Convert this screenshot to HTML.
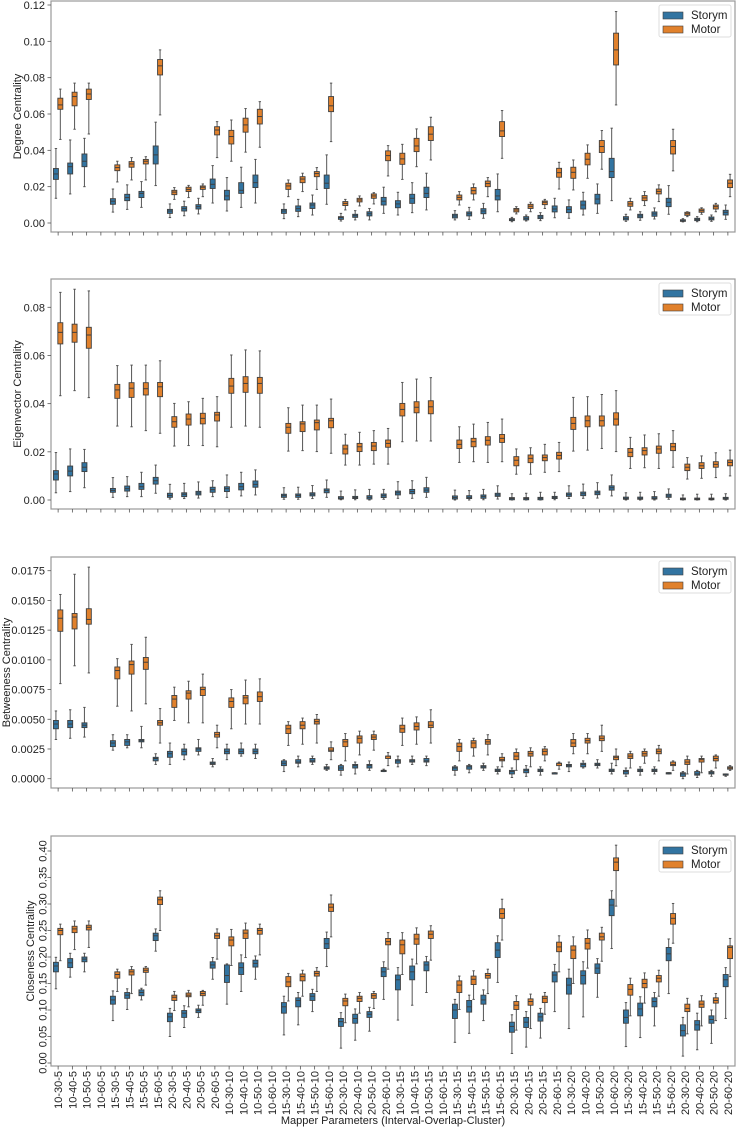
<!DOCTYPE html>
<html><head><meta charset="utf-8"><style>
html,body{margin:0;padding:0;background:#fff;}
svg{display:block;font-family:"Liberation Sans","DejaVu Sans",sans-serif;}
</style></head><body>
<svg id="chart" width="736" height="1128" viewBox="0 0 736 1128" xmlns="http://www.w3.org/2000/svg"></svg>
<script>
const categories = ["10-30-5","10-40-5","10-50-5","10-60-5","15-30-5","15-40-5","15-50-5","15-60-5","20-30-5","20-40-5","20-50-5","20-60-5",
"10-30-10","10-40-10","10-50-10","10-60-10","15-30-10","15-40-10","15-50-10","15-60-10","20-30-10","20-40-10","20-50-10","20-60-10",
"10-30-15","10-40-15","10-50-15","10-60-15","15-30-15","15-40-15","15-50-15","15-60-15","20-30-15","20-40-15","20-50-15","20-60-15",
"10-30-20","10-40-20","10-50-20","10-60-20","15-30-20","15-40-20","15-50-20","15-60-20","20-30-20","20-40-20","20-50-20","20-60-20"];
const seriesNames = ["Storym","Motor"];
// each box: [lowWhisker, q1, median, q3, highWhisker]
const degStorym = [[0.0136,0.024,0.027,0.030,0.041],[0.016,0.027,0.031,0.033,0.0457],[0.020,0.031,0.034,0.038,0.0466],null,[0.006,0.0103,0.012,0.0134,0.0187],[0.0075,0.0123,0.014,0.0158,0.021],[0.0086,0.014,0.0163,0.0174,0.0228],[0.0206,0.0325,0.0375,0.0424,0.0555],[0.003,0.0053,0.0066,0.0075,0.0105],[0.004,0.0066,0.0079,0.009,0.012],[0.005,0.0077,0.009,0.0101,0.0136],[0.011,0.019,0.0213,0.0242,0.0316],[0.0066,0.0127,0.0149,0.018,0.025],[0.0086,0.0163,0.018,0.0222,0.0307],[0.011,0.0195,0.0222,0.0264,0.035],null,[0.0024,0.0053,0.0066,0.0075,0.0105],[0.0035,0.0064,0.0079,0.0094,0.013],[0.0044,0.008,0.0099,0.011,0.0154],[0.0103,0.019,0.0219,0.0264,0.0375],[0.0011,0.002,0.003,0.0035,0.0053],[0.0017,0.0031,0.004,0.0048,0.0068],[0.0017,0.0039,0.0051,0.0062,0.008],[0.0053,0.0099,0.012,0.0141,0.0197],[0.0044,0.0084,0.0105,0.0123,0.0169],[0.0057,0.0108,0.0136,0.0158,0.0222],[0.0072,0.014,0.0163,0.0197,0.0274],null,[0.0017,0.0028,0.0039,0.0048,0.0068],[0.002,0.0039,0.0051,0.0061,0.0086],[0.0026,0.0051,0.0066,0.0079,0.0108],[0.0062,0.0127,0.0149,0.0185,0.027],[0.0007,0.0013,0.0018,0.0024,0.0031],[0.0011,0.0017,0.0026,0.0035,0.0044],[0.0013,0.0024,0.0033,0.0042,0.0057],[0.0029,0.0061,0.0077,0.0094,0.0136],[0.0026,0.0057,0.0075,0.009,0.0127],[0.0044,0.0077,0.0099,0.0121,0.0169],[0.0053,0.0105,0.0132,0.0158,0.0215],[0.0123,0.025,0.0283,0.0356,0.0522],[0.0009,0.0017,0.0026,0.0035,0.0048],[0.0015,0.0029,0.0039,0.0048,0.0062],[0.0022,0.0037,0.005,0.0061,0.0083],[0.0048,0.009,0.0114,0.0136,0.0206],[0.0006,0.0009,0.0015,0.0018,0.0024],[0.0007,0.0013,0.002,0.0026,0.0035],[0.0009,0.0017,0.0024,0.0033,0.0044],[0.002,0.0044,0.0059,0.007,0.0099]];
const degMotor = [[0.046,0.0626,0.065,0.0687,0.0737],[0.0516,0.0645,0.0696,0.072,0.077],[0.049,0.068,0.071,0.0737,0.077],null,[0.0226,0.0288,0.0305,0.032,0.034],[0.0237,0.0307,0.0325,0.0338,0.036],[0.0237,0.0325,0.034,0.035,0.0365],[0.0595,0.0815,0.0865,0.090,0.0953],[0.013,0.0156,0.017,0.018,0.0195],[0.014,0.0173,0.0185,0.0197,0.0207],[0.0145,0.0185,0.0197,0.0204,0.0215],[0.036,0.0485,0.0512,0.053,0.0558],[0.034,0.0435,0.0476,0.051,0.0567],[0.039,0.050,0.054,0.0577,0.063],[0.0417,0.0545,0.0586,0.0626,0.0668],null,[0.0145,0.0185,0.0204,0.0219,0.0237],[0.0173,0.0222,0.0242,0.0255,0.0274],[0.0185,0.0255,0.0272,0.0283,0.0305],[0.0448,0.0613,0.0645,0.0696,0.077],[0.0072,0.0096,0.0108,0.0118,0.013],[0.0094,0.0116,0.0127,0.0136,0.0149],[0.0105,0.0136,0.0149,0.016,0.0167],[0.0259,0.0343,0.0371,0.0397,0.0426],[0.024,0.0323,0.0353,0.0384,0.0433],[0.031,0.0393,0.0424,0.0466,0.0518],[0.0347,0.0454,0.0489,0.053,0.0582],null,[0.0099,0.0127,0.0141,0.0154,0.0173],[0.0127,0.016,0.0178,0.0195,0.0215],[0.0145,0.02,0.0217,0.0231,0.025],[0.0356,0.0476,0.0507,0.0558,0.0619],[0.005,0.0061,0.0072,0.008,0.009],[0.0062,0.008,0.0092,0.0103,0.0114],[0.008,0.0101,0.0114,0.0121,0.013],[0.0187,0.0252,0.0277,0.0301,0.0334],[0.0182,0.0246,0.0279,0.0307,0.0347],[0.0246,0.032,0.0351,0.0384,0.043],[0.0296,0.0388,0.0421,0.0454,0.0509],[0.065,0.087,0.0953,0.1045,0.1164],[0.0072,0.0092,0.0105,0.0118,0.0136],[0.0096,0.0123,0.0138,0.0151,0.0173],[0.0118,0.016,0.0174,0.0187,0.021],[0.0287,0.038,0.0421,0.0454,0.0516],[0.0035,0.0042,0.0051,0.0059,0.0062],[0.0048,0.0059,0.0068,0.0077,0.0084],[0.0062,0.0077,0.009,0.0099,0.0108],[0.0145,0.0195,0.0219,0.0237,0.0268]];
const eigStorym = [[0.003,0.0083,0.0108,0.0122,0.0197],[0.0035,0.01,0.012,0.0141,0.0212],[0.0051,0.0118,0.0136,0.0155,0.021],null,[0.0011,0.0032,0.004,0.0048,0.0093],[0.0014,0.0037,0.0047,0.0058,0.0097],[0.0014,0.0044,0.0055,0.0069,0.0115],[0.0028,0.0066,0.008,0.0094,0.0145],[0.0004,0.0011,0.0019,0.0028,0.0065],[0.0006,0.0014,0.0024,0.003,0.0069],[0.0008,0.0021,0.0029,0.0036,0.0075],[0.0014,0.0032,0.0043,0.0053,0.008],[0.0011,0.0035,0.0047,0.0055,0.0104],[0.0017,0.0042,0.0055,0.0069,0.0115],[0.0021,0.0053,0.0065,0.0079,0.0125],null,[0.0003,0.0011,0.0018,0.0024,0.0051],[0.0003,0.0011,0.0019,0.0025,0.0053],[0.0006,0.0017,0.0024,0.003,0.006],[0.0011,0.003,0.0039,0.0046,0.0083],[0.0001,0.0004,0.0008,0.0014,0.0037],[0.0001,0.0006,0.001,0.0015,0.0042],[0,0.0004,0.0011,0.0018,0.0044],[0.0003,0.001,0.0018,0.0025,0.0044],[0.0007,0.0021,0.003,0.0037,0.0076],[0.0007,0.0026,0.0035,0.0044,0.008],[0.0011,0.0032,0.0041,0.0051,0.0094],null,[0,0.0004,0.001,0.0017,0.0041],[0,0.0006,0.0011,0.0018,0.0039],[0.0001,0.0007,0.0014,0.0021,0.0044],[0.0004,0.0015,0.0021,0.0028,0.0059],[0,0.0001,0.0006,0.001,0.0026],[0,0.0001,0.0006,0.001,0.0028],[0,0.0001,0.0007,0.0011,0.0032],[0.0001,0.0006,0.0011,0.0015,0.0032],[0.0006,0.0015,0.0022,0.0029,0.0059],[0.0007,0.0018,0.0026,0.0033,0.0066],[0.0008,0.0022,0.003,0.0037,0.0072],[0.0017,0.0041,0.0051,0.0059,0.0104],[0,0.0003,0.0007,0.0012,0.003],[0,0.0003,0.0007,0.0012,0.0032],[0,0.0004,0.0008,0.0014,0.0035],[0.0003,0.0011,0.0017,0.0024,0.0046],[0,0.0001,0.0004,0.0008,0.0021],[0,0.0001,0.0004,0.0008,0.0024],[0,0.0001,0.0004,0.0008,0.0024],[0,0.0003,0.0007,0.0011,0.0026]];
const eigMotor = [[0.0433,0.0648,0.0696,0.0736,0.0862],[0.0454,0.0655,0.0696,0.073,0.0875],[0.0425,0.063,0.0685,0.0717,0.0868],null,[0.0307,0.0422,0.0457,0.048,0.0558],[0.0304,0.0426,0.0464,0.0487,0.056],[0.0288,0.0436,0.0462,0.0487,0.056],[0.0277,0.0429,0.047,0.0488,0.0578],[0.0224,0.0302,0.0325,0.0346,0.0401],[0.0226,0.0311,0.0336,0.0357,0.0408],[0.0226,0.0316,0.0339,0.036,0.0422],[0.0221,0.0328,0.0353,0.0364,0.0429],[0.0302,0.0443,0.0473,0.0505,0.0602],[0.0307,0.0447,0.0484,0.0512,0.0623],[0.0302,0.0443,0.0484,0.0509,0.0619],null,[0.0203,0.0277,0.0302,0.0318,0.0383],[0.0205,0.0284,0.0316,0.0325,0.0394],[0.0201,0.0291,0.0321,0.0332,0.0394],[0.0194,0.03,0.0329,0.0339,0.0419],[0.0145,0.0191,0.0212,0.0228,0.0273],[0.0145,0.0201,0.0221,0.0235,0.0281],[0.0149,0.0205,0.0224,0.0239,0.0288],[0.0149,0.0219,0.0235,0.0249,0.0297],[0.0242,0.0349,0.0376,0.0401,0.0488],[0.0245,0.0362,0.0385,0.0408,0.0502],[0.0245,0.0358,0.0387,0.0412,0.0508],null,[0.0156,0.0214,0.0231,0.0249,0.0304],[0.0159,0.0221,0.0242,0.0256,0.0315],[0.0156,0.0228,0.0248,0.0263,0.0322],[0.0159,0.0239,0.0256,0.0272,0.0336],[0.0107,0.0142,0.0165,0.018,0.0212],[0.0107,0.0155,0.0173,0.0187,0.0217],[0.0115,0.0163,0.0176,0.0187,0.0231],[0.0118,0.017,0.0185,0.0198,0.0239],[0.0203,0.0293,0.0318,0.0343,0.0426],[0.0207,0.0304,0.0329,0.0349,0.0429],[0.0214,0.0307,0.0329,0.0349,0.0438],[0.0201,0.0311,0.0336,0.0362,0.0454],[0.0131,0.018,0.0198,0.0214,0.026],[0.0134,0.0187,0.0205,0.0217,0.027],[0.0131,0.0194,0.0212,0.0224,0.0275],[0.0136,0.0205,0.0221,0.0235,0.0288],[0.0087,0.0122,0.0136,0.0149,0.0176],[0.009,0.0131,0.0142,0.0155,0.0183],[0.0093,0.0136,0.0148,0.0159,0.0196],[0.01,0.0142,0.0156,0.0166,0.0207]];
const betStorym = [[0.0033,0.0042,0.0046,0.0049,0.0057],[0.0034,0.0043,0.0046,0.0049,0.0058],[0.0035,0.0043,0.0045,0.0047,0.006],null,[0.0024,0.0027,0.003,0.0032,0.0037],[0.0026,0.0028,0.0031,0.0033,0.0037],[0.0026,0.0031,0.0032,0.0033,0.0044],[0.0012,0.0015,0.0017,0.0018,0.0021],[0.0012,0.0018,0.0021,0.0023,0.003],[0.0016,0.002,0.0023,0.0025,0.0029],[0.002,0.0023,0.0025,0.0026,0.0033],[0.001,0.0012,0.0013,0.0014,0.0017],[0.0016,0.0021,0.0023,0.0025,0.0029],[0.0019,0.0021,0.0023,0.0025,0.003],[0.0017,0.0021,0.0023,0.0025,0.0029],null,[0.0006,0.0011,0.0013,0.0015,0.0016],[0.001,0.0013,0.0014,0.0016,0.0019],[0.0012,0.0014,0.0015,0.0017,0.0019],[0.0007,0.0008,0.0009,0.001,0.0012],[0.0003,0.0007,0.0009,0.0011,0.0012],[0.0004,0.0009,0.0011,0.0012,0.0014],[0.0007,0.0009,0.0011,0.0012,0.0015],[0.0006,0.0006,0.0007,0.0007,0.0008],[0.001,0.0013,0.0015,0.0016,0.0019],[0.0012,0.0014,0.0015,0.0016,0.0019],[0.0011,0.0014,0.0015,0.0017,0.0019],null,[0.0003,0.0007,0.0009,0.001,0.0011],[0.0005,0.0008,0.001,0.0011,0.0012],[0.0007,0.0009,0.001,0.0011,0.0013],[0.0004,0.0006,0.0007,0.0008,0.001],[0.0001,0.0004,0.0006,0.0007,0.0009],[0.0002,0.0005,0.0007,0.0008,0.0011],[0.0003,0.0006,0.0007,0.0008,0.001],[0.0004,0.0004,0.0004,0.0005,0.0005],[0.0006,0.001,0.0011,0.0012,0.0014],[0.0009,0.001,0.0012,0.0013,0.0015],[0.0009,0.0011,0.0012,0.0013,0.0016],[0.0004,0.0006,0.0007,0.0008,0.0013],[0.0002,0.0004,0.0006,0.0007,0.0009],[0.0003,0.0006,0.0007,0.0008,0.001],[0.0004,0.0006,0.0007,0.0008,0.001],[0.0004,0.0004,0.0005,0.0005,0.0005],[0,0.0002,0.0004,0.0005,0.0006],[0.0001,0.0003,0.0004,0.0006,0.0007],[0.0002,0.0004,0.0005,0.0006,0.0007],[0.0002,0.0003,0.0003,0.0004,0.0004]];
const betMotor = [[0.008,0.0124,0.0135,0.0142,0.0155],[0.0095,0.0126,0.0136,0.0139,0.0172],[0.0089,0.013,0.0134,0.0143,0.0178],null,[0.0061,0.0084,0.0091,0.0094,0.0101],[0.0057,0.0088,0.0096,0.0099,0.0113],[0.0063,0.0092,0.0098,0.0102,0.0119],[0.003,0.0045,0.0047,0.0049,0.0059],[0.0049,0.006,0.0067,0.007,0.0077],[0.0047,0.0067,0.0072,0.0074,0.0082],[0.0047,0.007,0.0075,0.0077,0.0088],[0.0026,0.0035,0.0037,0.0039,0.0045],[0.0042,0.006,0.0065,0.0068,0.0075],[0.0046,0.0063,0.0068,0.007,0.0083],[0.0046,0.0065,0.0069,0.0073,0.0084],null,[0.0028,0.0038,0.0042,0.0045,0.0048],[0.0029,0.0042,0.0045,0.0048,0.0051],[0.003,0.0046,0.0048,0.005,0.0054],[0.0016,0.0023,0.0024,0.0026,0.0031],[0.0015,0.0027,0.0031,0.0033,0.0038],[0.002,0.003,0.0034,0.0036,0.004],[0.0024,0.0033,0.0035,0.0037,0.004],[0.0011,0.0017,0.0019,0.0019,0.0022],[0.0028,0.0039,0.0042,0.0045,0.0051],[0.0029,0.0041,0.0044,0.0047,0.0052],[0.003,0.0043,0.0045,0.0048,0.0058],null,[0.0015,0.0023,0.0027,0.003,0.0033],[0.0019,0.0026,0.003,0.0032,0.0034],[0.002,0.0029,0.0031,0.0033,0.0037],[0.001,0.0015,0.0016,0.0018,0.0021],[0.0007,0.0016,0.0019,0.0022,0.0025],[0.001,0.0019,0.0021,0.0023,0.0026],[0.0015,0.002,0.0023,0.0025,0.0027],[0.0008,0.0011,0.0013,0.0013,0.0014],[0.0021,0.0027,0.003,0.0033,0.0038],[0.0021,0.003,0.0032,0.0034,0.0038],[0.0023,0.0032,0.0034,0.0036,0.0045],[0.0011,0.0016,0.0018,0.0019,0.0025],[0.0009,0.0017,0.0019,0.0021,0.0023],[0.0013,0.0019,0.0021,0.0023,0.0025],[0.0015,0.0021,0.0023,0.0025,0.0028],[0.0007,0.0011,0.0012,0.0014,0.0015],[0.0004,0.0012,0.0014,0.0016,0.0019],[0.0005,0.0014,0.0016,0.0017,0.0019],[0.0009,0.0015,0.0017,0.0019,0.002],[0.0007,0.0008,0.0009,0.001,0.0011]];
const cloStorym = [[0.14,0.172,0.183,0.19,0.1994],[0.162,0.18,0.189,0.197,0.207],[0.172,0.191,0.196,0.2,0.207],null,[0.08,0.111,0.119,0.126,0.136],[0.101,0.122,0.128,0.133,0.14],[0.119,0.127,0.133,0.138,0.141],[0.211,0.231,0.24,0.245,0.253],[0.05,0.078,0.087,0.094,0.103],[0.067,0.086,0.094,0.099,0.108],[0.086,0.095,0.099,0.102,0.109],[0.158,0.179,0.185,0.191,0.199],[0.111,0.152,0.165,0.185,0.187],[0.135,0.167,0.18,0.189,0.204],[0.158,0.181,0.188,0.194,0.202],null,[0.053,0.094,0.106,0.114,0.126],[0.072,0.106,0.118,0.123,0.133],[0.097,0.118,0.126,0.131,0.139],[0.182,0.216,0.225,0.235,0.247],[0.028,0.069,0.078,0.084,0.095],[0.043,0.075,0.084,0.092,0.102],[0.06,0.086,0.092,0.097,0.105],[0.12,0.163,0.172,0.18,0.191],[0.081,0.138,0.157,0.166,0.18],[0.109,0.157,0.172,0.183,0.196],[0.133,0.174,0.185,0.191,0.201],null,[0.039,0.084,0.1,0.111,0.12],[0.056,0.096,0.106,0.118,0.128],[0.08,0.111,0.119,0.128,0.138],[0.152,0.199,0.213,0.227,0.24],[0.018,0.058,0.069,0.077,0.091],[0.03,0.067,0.077,0.086,0.097],[0.047,0.079,0.087,0.094,0.103],[0.097,0.153,0.166,0.172,0.186],[0.065,0.13,0.147,0.16,0.177],[0.087,0.149,0.165,0.174,0.191],[0.124,0.169,0.179,0.187,0.197],[0.216,0.278,0.298,0.309,0.325],[0.031,0.075,0.086,0.1,0.114],[0.048,0.089,0.102,0.113,0.125],[0.07,0.106,0.116,0.123,0.133],[0.131,0.193,0.206,0.218,0.234],[0.013,0.051,0.061,0.072,0.086],[0.025,0.062,0.072,0.08,0.094],[0.037,0.075,0.082,0.089,0.1],[0.084,0.144,0.157,0.167,0.18]];
const cloMotor = [[0.193,0.242,0.25,0.254,0.262],[0.214,0.246,0.253,0.258,0.268],[0.218,0.251,0.256,0.26,0.268],null,[0.135,0.16,0.167,0.172,0.177],[0.131,0.166,0.172,0.176,0.182],[0.147,0.171,0.175,0.179,0.182],[0.25,0.299,0.308,0.313,0.325],[0.099,0.118,0.124,0.128,0.135],[0.106,0.125,0.128,0.132,0.137],[0.109,0.127,0.131,0.135,0.137],[0.196,0.235,0.24,0.245,0.253],[0.184,0.221,0.232,0.238,0.252],[0.199,0.235,0.245,0.251,0.264],[0.204,0.243,0.25,0.254,0.262],null,[0.117,0.144,0.153,0.163,0.169],[0.126,0.155,0.163,0.168,0.175],[0.135,0.164,0.169,0.173,0.18],[0.238,0.286,0.294,0.3,0.317],[0.076,0.108,0.117,0.122,0.13],[0.094,0.116,0.122,0.126,0.133],[0.103,0.122,0.127,0.131,0.135],[0.177,0.223,0.229,0.235,0.246],[0.167,0.206,0.223,0.232,0.246],[0.187,0.224,0.234,0.243,0.255],[0.194,0.235,0.243,0.249,0.259],null,[0.101,0.133,0.147,0.155,0.164],[0.12,0.148,0.158,0.164,0.174],[0.131,0.16,0.165,0.169,0.177],[0.232,0.273,0.282,0.291,0.309],[0.062,0.101,0.109,0.116,0.127],[0.065,0.109,0.116,0.121,0.13],[0.092,0.114,0.122,0.126,0.133],[0.172,0.21,0.219,0.228,0.24],[0.15,0.197,0.213,0.221,0.238],[0.179,0.215,0.226,0.235,0.251],[0.192,0.232,0.238,0.245,0.256],[0.296,0.363,0.379,0.387,0.411],[0.089,0.128,0.139,0.148,0.16],[0.113,0.142,0.15,0.158,0.17],[0.126,0.153,0.16,0.165,0.175],[0.226,0.262,0.273,0.282,0.301],[0.055,0.097,0.103,0.111,0.122],[0.07,0.105,0.111,0.117,0.127],[0.08,0.113,0.118,0.123,0.131],[0.163,0.197,0.218,0.221,0.235]];
const degTicks = [0,0.02,0.04,0.06,0.08,0.10,0.12];
const eigTicks = [0,0.02,0.04,0.06,0.08];
const betTicks = [0,0.0025,0.005,0.0075,0.01,0.0125,0.015,0.0175];
const cloTicks = [0,0.05,0.1,0.15,0.2,0.25,0.3,0.35,0.4];

const NS = "http://www.w3.org/2000/svg";
const svg = document.getElementById('chart');
function mk(tag, attrs, parent){const e=document.createElementNS(NS,tag);for(const k in attrs)e.setAttribute(k,attrs[k]);(parent||svg).appendChild(e);return e;}

const X0 = 51, X1 = 735;
const band = (X1 - X0) / categories.length;
function xScale(i){ return X0 + band*(i+0.5); }
const COLORS = ["#3274a1","#e1812c"];
const EDGE = "#3f3f3f";

const panels = [
  {key:"degree", title:"Degree Centrality", top:1, bottom:232, v0:0, p0:223, v1:0.12, p1:5, ticks:degTicks, dec:2, s:degStorym, m:degMotor, titleX:21, rot:false},
  {key:"eigenvector", title:"Eigenvector Centrality", top:279, bottom:509, v0:0, p0:500, v1:0.08, p1:307.3, ticks:eigTicks, dec:2, s:eigStorym, m:eigMotor, titleX:21, rot:false},
  {key:"betweenness", title:"Betweeness Centrality", top:557, bottom:788, v0:0, p0:778.7, v1:0.0175, p1:570.7, ticks:betTicks, dec:4, s:betStorym, m:betMotor, titleX:10, rot:false},
  {key:"closeness", title:"Closeness Centrality", top:836, bottom:1066, v0:0, p0:1063, v1:0.40, p1:851, ticks:cloTicks, dec:2, s:cloStorym, m:cloMotor, titleX:34, rot:true}
];

panels.forEach(p=>{
  const y = v => p.p0 + (v - p.v0) * (p.p1 - p.p0) / (p.v1 - p.v0);
  const g = mk('g',{});
  
  
  const fr = mk('rect',{x:X0,y:p.top,width:X1-X0,height:p.bottom-p.top,fill:'none',stroke:'#999',"stroke-width":1.2},g);
  
  
  p.ticks.forEach(t=>{
    const ty = y(t);
    const tl = mk('line',{x1:X0-3.5,x2:X0,y1:ty,y2:ty,stroke:'#555',"stroke-width":0.8},g);
    
    
    let txt;
    if(p.rot){
      txt = mk('text',{x:0,y:0,transform:`translate(46.5,${ty}) rotate(-90)`,"text-anchor":"middle","font-size":11,fill:'#222'},g);
    } else {
      txt = mk('text',{x:X0-6,y:ty+4,"text-anchor":"end","font-size":11,fill:'#222'},g);
    }
    txt.textContent = t.toFixed(p.dec);
    
    
  });
  const cy = (p.top+p.bottom)/2;
  const yt = mk('text',{x:0,y:0,transform:`translate(${p.titleX},${cy}) rotate(-90)`,"text-anchor":"middle","font-size":11,fill:'#222'},g);
  yt.textContent = p.title;
  
  
  categories.forEach((c,i)=>{
    const xl = mk('line',{x1:xScale(i),x2:xScale(i),y1:p.bottom,y2:p.bottom+3.5,stroke:'#555',"stroke-width":0.8},g);
    
    
  });
  [p.s,p.m].forEach((series,si)=>{
    series.forEach((b,i)=>{
      if(!b) return;
      const cx = xScale(i) + (si===0?-2.2:2.2);
      const w = 5;
      const bg = mk('g',{},g);
      
      
      mk('line',{x1:cx,x2:cx,y1:y(b[0]),y2:y(b[1]),stroke:'#555',"stroke-width":1},bg);
      mk('line',{x1:cx,x2:cx,y1:y(b[3]),y2:y(b[4]),stroke:'#555',"stroke-width":1},bg);
      mk('line',{x1:cx-1.2,x2:cx+1.2,y1:y(b[0]),y2:y(b[0]),stroke:'#555',"stroke-width":1},bg);
      mk('line',{x1:cx-1.2,x2:cx+1.2,y1:y(b[4]),y2:y(b[4]),stroke:'#555',"stroke-width":1},bg);
      const yq3 = y(b[3]), yq1 = y(b[1]);
      mk('rect',{x:cx-w/2,y:yq3,width:w,height:Math.max(1,yq1-yq3),fill:COLORS[si],stroke:EDGE,"stroke-width":0.9},bg);
      mk('line',{x1:cx-w/2,x2:cx+w/2,y1:y(b[2]),y2:y(b[2]),stroke:EDGE,"stroke-width":1},bg);
    });
  });
  const lg = mk('g',{},g);
  
  
  const ly = p.top + 4;
  mk('rect',{x:659,y:ly,width:72,height:32,rx:2,fill:'#fff',stroke:'#ddd',"stroke-width":1},lg);
  seriesNames.forEach((n,k)=>{
    const ry = ly + 7 + k*14;
    const pr = mk('rect',{x:663,y:ry,width:20,height:7,fill:COLORS[k],stroke:EDGE,"stroke-width":0.6},lg);
    
    
    const lt = mk('text',{x:691,y:ry+7,"font-size":11.5,fill:'#222'},lg);
    lt.textContent = n;
    
    
  });
});

categories.forEach((c,i)=>{
  const t = mk('text',{x:0,y:0,transform:`translate(${xScale(i)+4},1071) rotate(-90)`,"text-anchor":"end","font-size":11,fill:'#222'});
  t.textContent = c;
  
  
});
const xt = mk('text',{x:393,y:1124,"text-anchor":"middle","font-size":11,fill:'#222'});
xt.textContent = "Mapper Parameters (Interval-Overlap-Cluster)";


</script>
</body></html>
